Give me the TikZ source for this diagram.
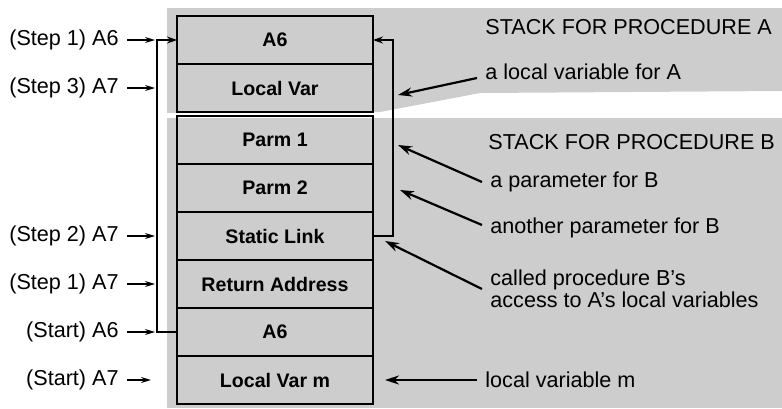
\documentclass[tikz,border=0pt]{standalone}
\usepackage{fontspec}
\setmainfont{Liberation Sans}
\usetikzlibrary{positioning,arrows.meta}
\definecolor{halftone}{HTML}{CDCDCD}

\begin{document}
\begin{tikzpicture}[
  x=0.5pt, y=-0.5pt,
  cell/.style={rectangle, draw=black, line width=1.3pt, minimum width=98pt, minimum height=24pt, outer sep=0pt, inner sep=0pt, font=\fontsize{9.8}{12}\selectfont\bfseries},
  tag/.style={anchor=east, inner xsep=4pt, inner ysep=1pt, font=\fontsize{10.8}{12}\selectfont},
  note/.style={anchor=west, inner xsep=4pt, inner ysep=0pt, align=left, font=\fontsize{10.8}{11}\selectfont},
  ptr/.style={-{Stealth[length=5pt,width=3pt]}, line width=0.6pt},
  link/.style={-{Stealth[length=5pt,width=3.5pt]}, line width=1pt},
  pointer/.style={-{Stealth[length=7pt,width=4.5pt]}, line width=1.1pt}
]
\useasboundingbox (0,0) rectangle (782,408);

% halftone backgrounds of the two frames
\fill[halftone] (167,8) -- (782,8) -- (782,91) -- (480,93) -- (380,112) -- (167,113) -- cycle;
\fill[halftone] (167,118) rectangle (782,408);

% stack cells
\node[cell] (topa6) at (275,40) {A6};
\node[cell, below=0pt of topa6] (localvar) {Local Var};
\node[cell, below=2pt of localvar] (parm1) {Parm 1};
\node[cell, below=0pt of parm1] (parm2) {Parm 2};
\node[cell, below=0pt of parm2] (staticlink) {Static Link};
\node[cell, below=0pt of staticlink] (retaddr) {Return Address};
\node[cell, below=0pt of retaddr] (a6) {A6};
\node[cell, below=0pt of a6] (localvarm) {Local Var m};

% links
\draw[link] (a6.west) -- ++(-20,0) |- (topa6.west);
\draw[link] (staticlink.east) -- ++(20,0) |- (topa6.east);

% register tags
\node[tag, left=25pt of topa6] (s1a6) {(Step 1) A6};
\node[tag, left=25pt of localvar] (s3a7) {(Step 3) A7};
\node[tag, left=25pt of staticlink] (s2a7) {(Step 2) A7};
\node[tag, left=25pt of retaddr] (s1a7) {(Step 1) A7};
\node[tag, left=25pt of a6] (sta6) {(Start) A6};
\node[tag, left=25pt of localvarm] (sta7) {(Start) A7};

\draw[ptr] (s1a6.east) -- ([xshift=-11pt]topa6.west);
\draw[ptr] (s3a7.east) -- ([xshift=-11pt]localvar.west);
\draw[ptr] (s2a7.east) -- ([xshift=-11pt]staticlink.west);
\draw[ptr] (s1a7.east) -- ([xshift=-11pt]retaddr.west);
\draw[ptr] (sta6.east) -- ([xshift=-11pt]a6.west);
\draw[ptr] (sta7.east) -- ([xshift=-13pt]localvarm.west);

% notes
\node[note] (stacka) at (477,27) {STACK FOR PROCEDURE A};
\node[note] (lvara) at (477,72) {a local variable for A};
\node[note] (stackb) at (480,142) {STACK FOR PROCEDURE B};
\node[note] (parama) at (482,182) {a parameter for B};
\node[note] (paramb) at (482,228) {another parameter for B};
\node[note] (access) at (482,289) {called procedure B's\\access to A's local variables};
\node[note] (lvarm) at (477,380) {local variable m};

\draw[pointer] ([yshift=-3pt]lvara.west) -- ([shift={(25,7)}]localvar.east);
\draw[pointer] (parama.west) -- ([shift={(25,5)}]parm1.east);
\draw[pointer] ([yshift=1.5pt]paramb.west) -- ([shift={(27,2)}]parm2.east);
\draw[pointer] (access.west) -- ([shift={(12,5)}]staticlink.east);
\draw[pointer] (lvarm.west) -- ([xshift=6pt]localvarm.east);
\end{tikzpicture}
\end{document}
